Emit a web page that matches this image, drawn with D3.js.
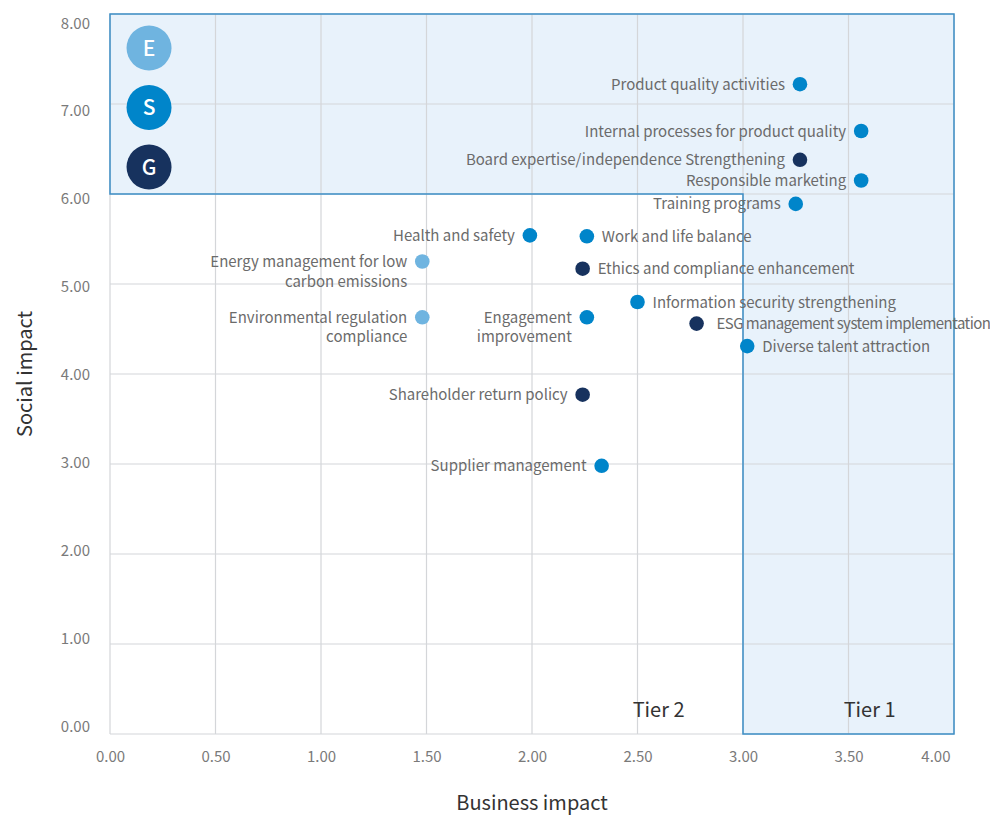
<!DOCTYPE html>
<html>
<head>
<meta charset="utf-8">
<script src="https://cdn.jsdelivr.net/npm/d3@7"></script>
<style>
  body { margin: 0; background: #fff; }
  svg { font-family: "Noto Sans CJK KR", "Noto Sans", sans-serif; }
</style>
</head>
<body>
<div class="chart"></div>
<script>
// issue names, business impact (x), social impact (y), ESG group
const issues = [
  "Product quality activities",
  "Internal processes for product quality",
  "Board expertise/independence Strengthening",
  "Responsible marketing",
  "Training programs",
  "Health and safety",
  "Work and life balance",
  "Energy management for low|carbon emissions",
  "Ethics and compliance enhancement",
  "Environmental regulation|compliance",
  "Engagement|improvement",
  "Information security strengthening",
  "ESG management system implementation",
  "Diverse talent attraction",
  "Shareholder return policy",
  "Supplier management"
];
const businessImpact = [3.27, 3.56, 3.27, 3.56, 3.25, 1.99, 2.26, 1.48, 2.24, 1.48, 2.26, 2.50, 2.78, 3.02, 2.24, 2.33];
const socialImpact   = [7.22, 6.70, 6.38, 6.15, 5.89, 5.54, 5.53, 5.25, 5.17, 4.63, 4.63, 4.80, 4.56, 4.31, 3.77, 2.98];
const groups         = ["S", "S", "G", "S", "S", "S", "S", "E", "G", "E", "S", "S", "G", "S", "G", "S"];

// labels drawn on the right side of their dot
const rightLabels = new Set([
  "Work and life balance",
  "Ethics and compliance enhancement",
  "Information security strengthening",
  "ESG management system implementation",
  "Diverse talent attraction"
]);
// the long ESG label is set a little tighter in the original
const tightLabels = new Set(["ESG management system implementation"]);

const legendKeys = ["E", "S", "G"];
const xTicks = [0, 0.5, 1, 1.5, 2, 2.5, 3, 3.5, 4];
const yTicks = [0, 1, 2, 3, 4, 5, 6, 7, 8];
// highlighted zone (top band + tier 1 column)
const highlightZone = [[0, 8], [4, 8], [4, 0], [3, 0], [3, 6], [0, 6]];
const tiers = [{ name: "Tier 2", x: 2.6, y: 0.27 }, { name: "Tier 1", x: 3.6, y: 0.27 }];

const colors = { E: "#6fb4e0", S: "#0085ca", G: "#17325e" };

const width = 990, height = 815;
const margin = { top: 14, right: 36, bottom: 81, left: 110 };
const innerW = width - margin.left - margin.right;
const innerH = height - margin.top - margin.bottom;

const svg = d3.select(".chart").append("svg")
  .attr("width", width)
  .attr("height", height);

const g = svg.append("g")
  .attr("transform", `translate(${margin.left},${margin.top})`);

const x = d3.scaleLinear().domain([0, 4]).range([0, innerW]);
const y = d3.scaleLinear().domain([0, 8]).range([innerH, 0]);
// tick labels in the original sit on a slightly tighter spread than the grid
const yLabel = d3.scaleLinear().domain([0, 8]).range([innerH - 8, 9]);

// shaded zone fill
const zoneLine = d3.line().x(d => x(d[0])).y(d => y(d[1]));
g.append("path")
  .attr("d", zoneLine(highlightZone) + "Z")
  .attr("fill", "#e8f2fb");

// grid
g.append("g")
  .selectAll("line")
  .data(xTicks)
  .join("line")
  .attr("x1", d => x(d)).attr("x2", d => x(d))
  .attr("y1", 0).attr("y2", innerH)
  .attr("stroke", "#d4d6d9")
  .attr("stroke-width", 1.2);

g.append("g")
  .selectAll("line")
  .data(yTicks)
  .join("line")
  .attr("x1", 0).attr("x2", innerW)
  .attr("y1", d => y(d)).attr("y2", d => y(d))
  .attr("stroke", "#d4d6d9")
  .attr("stroke-width", 1.2);

// zone outline
g.append("path")
  .attr("d", zoneLine(highlightZone) + "Z")
  .attr("fill", "none")
  .attr("stroke", "#3d8fc6")
  .attr("stroke-width", 1.5);

// axes
const xAxis = d3.axisBottom(x).tickValues(xTicks).tickFormat(d3.format(".2f")).tickSize(0).tickPadding(17);
const xAxisG = g.append("g")
  .attr("transform", `translate(0,${innerH})`)
  .call(xAxis)
  .attr("font-family", null)
  .attr("font-size", null);
xAxisG.select(".domain").remove();
xAxisG.selectAll("text")
  .attr("fill", "#7a7a7a")
  .attr("font-size", 15)
  .filter(d => d === 4)
  .attr("text-anchor", "end")
  .attr("dx", -4);

const yAxis = d3.axisLeft(y).tickValues(yTicks).tickFormat(d3.format(".2f")).tickSize(0).tickPadding(20);
const yAxisG = g.append("g").call(yAxis)
  .attr("font-family", null)
  .attr("font-size", null);
yAxisG.select(".domain").remove();
yAxisG.selectAll("text")
  .attr("fill", "#7a7a7a")
  .attr("font-size", 15)
  .attr("dy", d => (yLabel(d) - y(d)) + 5);

// axis titles
svg.append("text")
  .attr("x", margin.left + x(2))
  .attr("y", 810)
  .attr("text-anchor", "middle")
  .attr("font-size", 20)
  .attr("fill", "#333")
  .text("Business impact");

svg.append("text")
  .attr("transform", `translate(32,${margin.top + innerH / 2}) rotate(-90)`)
  .attr("text-anchor", "middle")
  .attr("font-size", 20)
  .attr("fill", "#333")
  .text("Social impact");

// tier labels
g.append("g")
  .selectAll("text")
  .data(tiers)
  .join("text")
  .attr("x", d => x(d.x))
  .attr("y", d => y(d.y) + 7)
  .attr("text-anchor", "middle")
  .attr("font-size", 20)
  .attr("fill", "#333")
  .text(d => d.name);

// legend
const legendY = d3.scalePoint().domain(legendKeys).range([34, 153]);
const legend = g.append("g")
  .selectAll("g")
  .data(legendKeys)
  .join("g")
  .attr("transform", d => `translate(${x(0.185)},${legendY(d)})`);
legend.append("circle")
  .attr("r", 22.5)
  .attr("fill", d => colors[d]);
legend.append("text")
  .attr("text-anchor", "middle")
  .attr("dy", "0.36em")
  .attr("font-size", 21)
  .attr("font-weight", 500)
  .attr("fill", "#fff")
  .text(d => d);

// points
const data = issues.map((name, i) => ({
  name,
  x: businessImpact[i],
  y: socialImpact[i],
  group: groups[i],
  right: rightLabels.has(name)
}));

const pts = g.append("g")
  .selectAll("g")
  .data(data)
  .join("g")
  .attr("transform", d => `translate(${x(d.x)},${y(d.y)})`);

pts.append("circle")
  .attr("r", 7.3)
  .attr("fill", d => colors[d.group]);

pts.append("text")
  .attr("text-anchor", d => d.right ? "start" : "end")
  .attr("font-size", 15)
  .attr("letter-spacing", d => tightLabels.has(d.name) ? -0.55 : null)
  .attr("fill", "#6b6b6b")
  .selectAll("tspan")
  .data(d => d.name.split("|").map(t => ({ t, right: d.right, tight: tightLabels.has(d.name) })))
  .join("tspan")
  .attr("x", d => d.right ? (d.tight ? 20 : 15) : -15)
  .attr("y", (d, i) => 5.5 + i * 19.5)
  .text(d => d.t);
</script>
</body>
</html>
